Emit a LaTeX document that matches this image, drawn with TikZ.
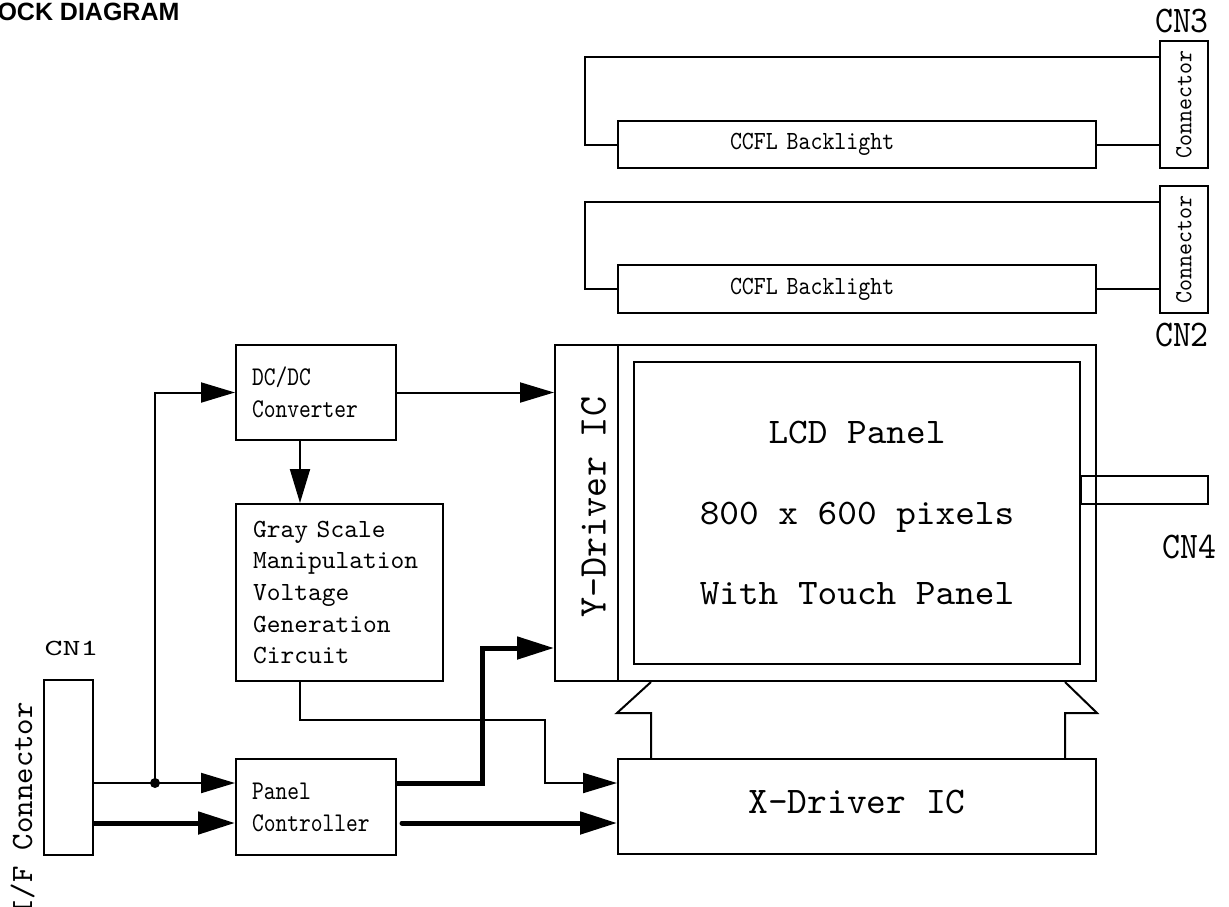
\documentclass[tikz,border=0pt]{standalone}
\usepackage{fontspec}
\usepackage{graphicx}
\usepackage{tikz}
\usetikzlibrary{arrows,arrows.meta,positioning}
\newfontfamily\headfont{Liberation Sans}
\newcommand{\mono}[3]{\fontspec[FakeStretch=#3]{lmmono10-regular.otf}\fontsize{#1}{#2}\selectfont}
\tikzstyle{box} = [rectangle, draw, line width=2pt, inner sep=0pt]
\tikzstyle{wire} = [line width=2pt]
\tikzstyle{arrow} = [line width=2pt, -{Triangle[length=34pt,width=20pt]}]
\tikzstyle{bus} = [line width=5pt, -{Triangle[length=37pt,width=22pt]}]
\tikzstyle{cnlabel} = [inner sep=0pt, font=\mono{37.6}{42}{0.91}]

\begin{document}
\begin{tikzpicture}[x=1pt, y=-1pt]
\useasboundingbox (0,0) rectangle (1229,906);
\node[anchor=base west, inner sep=0pt, font=\headfont\bfseries\fontsize{25}{30}\selectfont] (title) at (-36,20) {BLOCK DIAGRAM};

% Backlights and their connectors
\node (bl1) [box, minimum width=478pt, minimum height=47pt, text width=254pt, align=left, font=\mono{26.2}{30}{0.87}] at (857,144.5) {CCFL Backlight};
\node (bl2) [box, below of=bl1, node distance=144.5pt, minimum width=478pt, minimum height=48pt, text width=254pt, align=left, font=\mono{26.2}{30}{0.87}] {CCFL Backlight};
\node (con3) [box, minimum width=48pt, minimum height=127pt, font=\mono{24.5}{30}{0.93}] at (1184,104.5) {\rotatebox{90}{Connector}};
\node (con2) [box, below of=con3, node distance=145pt, minimum width=48pt, minimum height=127pt, font=\mono{24.5}{30}{0.93}] {\rotatebox{90}{Connector}};
\node (cn3) [cnlabel, above of=con3, node distance=83.5pt, xshift=-2pt] {CN3};
\node (cn2) [cnlabel, below of=con2, node distance=85.5pt, xshift=-2pt] {CN2};
\draw[wire] ([yshift=47.5pt]con3.west) -| ([xshift=-32pt]bl1.west) -- (bl1.west);
\draw[wire] (bl1.east) -- (bl1.east -| con3.west);
\draw[wire] ([yshift=47.5pt]con2.west) -| ([xshift=-32pt]bl2.west) -- (bl2.west);
\draw[wire] (bl2.east) -- (bl2.east -| con2.west);

% Panel and drivers
\node (ydrv) [box, minimum width=63pt, minimum height=336pt] at (586.5,513) {};
\node (lcd) [box, right of=ydrv, node distance=270.5pt, minimum width=478pt, minimum height=336pt] {};
\node (panelin) [box, minimum width=446pt, minimum height=302pt, align=center, font=\mono{36}{80.5}{1.04}] at (lcd.center) {LCD Panel\\800 x 600 pixels\\With Touch Panel};
\node (ylabel) [rotate=90, inner sep=0pt, font=\mono{39.3}{44}{0.97}] at ([xshift=7pt, yshift=6pt]ydrv.center) {Y-Driver IC};
\node (stub) [box, minimum width=127pt, minimum height=28pt] at (1144.5,490) {};
\node (cn4) [cnlabel] at (1189.5,546.5) {CN4};
\node (xdrv) [box, below of=lcd, node distance=293.5pt, minimum width=478pt, minimum height=95pt, text depth=10pt, font=\mono{37.6}{44}{1.0}] {X-Driver IC};
\draw[wire] ([xshift=34pt]lcd.south west) -- ++(-34,31) -- ++(34,0) -- ([xshift=34pt]xdrv.north west);
\draw[wire] ([xshift=-32pt]lcd.south east) -- ++(32,31) -- ++(-32,0) -- ([xshift=-32pt]xdrv.north east);

% Interface side
\node (cn1box) [box, minimum width=49pt, minimum height=175pt] at (68.5,767.5) {};
\node (cn1) [above of=cn1box, node distance=119.5pt, xshift=3pt, inner sep=0pt, font=\mono{23}{26}{1.49}] {CN1};
\node (iflabel) [rotate=90, anchor=base, inner sep=0pt, font=\mono{31}{36}{1.01}] at (32,809) {I/F Connector};
\node (dcdc) [box, minimum width=160pt, minimum height=95pt, text width=128pt, align=left, font=\mono{27}{32}{0.83}] at (316,392.5) {DC/DC\\Converter};
\node (gray) [box, minimum width=207pt, minimum height=177pt, text width=173pt, align=left, font=\mono{26.2}{31.7}{1.0}] at (339.5,592.5) {Gray Scale\\Manipulation\\Voltage\\Generation\\Circuit};
\node (panel) [box, minimum width=160pt, minimum height=96pt, text width=128pt, align=left, font=\mono{27}{32}{0.83}] at (316,807) {Panel\\Controller};

% Signal paths
\coordinate (r0) at (0,648);
\coordinate (r1) at (0,783);
\coordinate (r2) at (0,823);
\coordinate (jn) at (155,783);
\coordinate (dd) at ([xshift=-16pt]dcdc.south);
\coordinate (pe) at ([xshift=5pt]panel.east);
\draw[arrow] (cn1box.east |- r1) -- (panel.west |- r1);
\fill (jn) circle (5pt);
\draw[arrow] (jn) |- (dcdc.west);
\draw[bus] (cn1box.east |- r2) -- (panel.west |- r2);
\draw[arrow] (dcdc.east) -- (dcdc.east -| ydrv.west);
\draw[arrow] (dd) -- (dd |- gray.north);
\draw[arrow] ([xshift=-39.5pt]gray.south) |- (545,720) |- (xdrv.west |- r1);
\draw[bus] (panel.east |- r1) -- (482,783) |- (ydrv.west |- r0);
\draw[bus, line cap=round] (pe |- r2) -- (xdrv.west |- r2);
\end{tikzpicture}
\end{document}
